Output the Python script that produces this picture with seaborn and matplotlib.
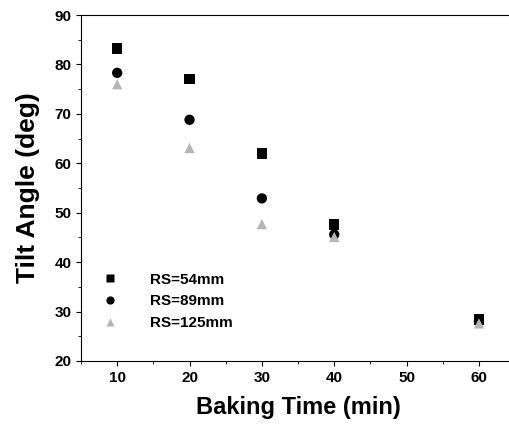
import matplotlib
matplotlib.use("Agg")
import matplotlib.pyplot as plt
import seaborn as sns
import pandas as pd
from matplotlib.ticker import MultipleLocator

time_min = [10, 20, 30, 40, 60]
rs54 = [83.2, 77.1, 62.0, 47.6, 28.4]
rs89 = [78.3, 68.8, 52.9, 45.6, 28.1]
rs125 = [76.0, 63.1, 47.7, 45.1, 27.6]

df = pd.concat([
    pd.DataFrame({'t': time_min, 'angle': rs54, 'series': 'RS=54mm'}),
    pd.DataFrame({'t': time_min, 'angle': rs89, 'series': 'RS=89mm'}),
    pd.DataFrame({'t': time_min, 'angle': rs125, 'series': 'RS=125mm'}),
])

sns.set_style("ticks")
plt.rcParams['font.family'] = ['Liberation Sans', 'DejaVu Sans']
plt.rcParams.update({'text.color': 'black', 'axes.labelcolor': 'black',
                     'xtick.color': 'black', 'ytick.color': 'black',
                     'axes.edgecolor': 'black'})

fig = plt.figure(figsize=(5.10, 4.33), dpi=100)
ax = fig.add_axes([81/510, 1 - 361/433, 1 - 81/510 + 0.01, 346/433])

sns.scatterplot(data=df, x='t', y='angle', hue='series', style='series',
                markers={'RS=54mm': 's', 'RS=89mm': 'o', 'RS=125mm': '^'},
                palette={'RS=54mm': 'black', 'RS=89mm': 'black', 'RS=125mm': '#b5b5b5'},
                s=55, edgecolor='none', ax=ax)

ax.set_xlim(5, 65)
ax.set_ylim(20, 90)
ax.set_xticks([10, 20, 30, 40, 50, 60])
ax.xaxis.set_minor_locator(MultipleLocator(5))
ax.yaxis.set_major_locator(MultipleLocator(10))
ax.yaxis.set_minor_locator(MultipleLocator(5))
ax.tick_params(labelsize=11)
for lab in ax.get_xticklabels() + ax.get_yticklabels():
    lab.set_fontweight('bold')
ax.set_xlabel('Baking Time (min)', fontsize=17, fontweight='bold', labelpad=8)
ax.set_ylabel('Tilt Angle (deg)', fontsize=19, fontweight='bold', labelpad=10)

leg = ax.legend(loc='lower left', bbox_to_anchor=(0.0, 0.05), frameon=False,
                prop={'weight': 'bold', 'size': 11}, handletextpad=1.6,
                labelspacing=0.5, markerscale=0.8)

fig.savefig('out.png', dpi=100)
